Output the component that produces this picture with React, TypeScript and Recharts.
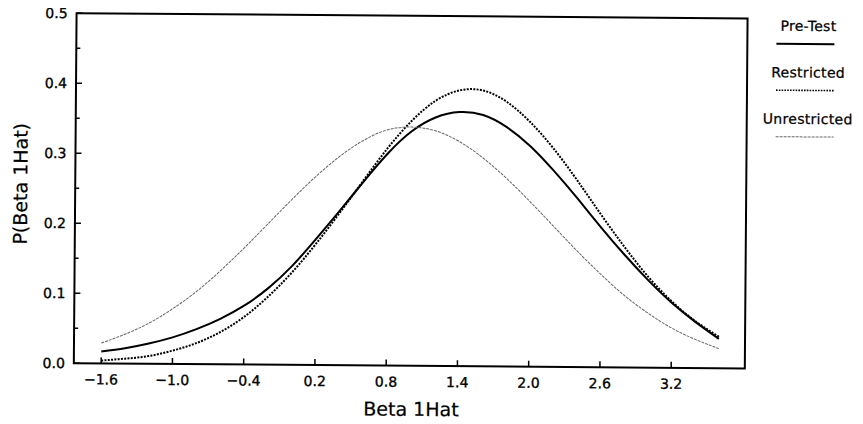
import React from 'react';
import { LineChart, Line, XAxis, YAxis, ReferenceArea, Legend } from 'recharts';

const xValues = [-1.6, -1.4, -1.2, -1.0, -0.8, -0.6, -0.4, -0.2, 0.0, 0.2, 0.4, 0.6, 0.8, 1.0, 1.2, 1.4, 1.6, 1.8, 2.0, 2.2, 2.4, 2.6, 2.8, 3.0, 3.2, 3.4, 3.6];
const preTest = [0.017, 0.022, 0.029, 0.038, 0.050, 0.065, 0.084, 0.109, 0.141, 0.180, 0.221, 0.263, 0.303, 0.335, 0.355, 0.363, 0.359, 0.342, 0.315, 0.280, 0.241, 0.200, 0.161, 0.125, 0.093, 0.066, 0.042];
const restricted = [0.004, 0.007, 0.011, 0.019, 0.030, 0.046, 0.068, 0.097, 0.132, 0.173, 0.218, 0.265, 0.311, 0.350, 0.379, 0.394, 0.394, 0.378, 0.349, 0.311, 0.266, 0.218, 0.172, 0.130, 0.095, 0.067, 0.045];
const unrestricted = [0.029, 0.042, 0.058, 0.079, 0.104, 0.134, 0.167, 0.202, 0.237, 0.270, 0.299, 0.322, 0.337, 0.341, 0.336, 0.321, 0.298, 0.269, 0.236, 0.201, 0.166, 0.133, 0.103, 0.078, 0.057, 0.041, 0.028];

const xTicks = [-1.6, -1.0, -0.4, 0.2, 0.8, 1.4, 2.0, 2.6, 3.2];
const yTicks = [0, 0.05, 0.1, 0.15, 0.2, 0.25, 0.3, 0.35, 0.4, 0.45, 0.5];
const seriesNames = ['Pre-Test', 'Restricted', 'Unrestricted'];
const xLabel = 'Beta 1Hat';
const yLabel = 'P(Beta 1Hat)';

const data = xValues.map((x, i) => ({
  x,
  pre: preTest[i],
  res: restricted[i],
  unr: unrestricted[i],
}));

const FONT = '"DejaVu Sans", sans-serif';

const seriesStyle: Record<string, { stroke: string; width: number; dash?: string }> = {
  'Pre-Test': { stroke: '#000', width: 2 },
  Restricted: { stroke: '#000', width: 1.6, dash: '1.6 1.2' },
  Unrestricted: { stroke: '#666', width: 1, dash: '3 1' },
};

const fmt = (v: number) => {
  const s = Math.abs(v).toFixed(1);
  return v < -1e-9 ? '\u2212' + s : s;
};

const textProps = { fontFamily: FONT, fill: '#000', stroke: '#000', strokeWidth: 0.35 };

const XTick = (props: any) => {
  const { x, y, payload } = props;
  return (
    <g>
      <line x1={x} x2={x} y1={y} y2={y - 6} stroke="#000" strokeWidth={1.5} />
      <text x={x} y={y + 16} textAnchor="middle" dominantBaseline="central" fontSize={14} {...textProps}>
        {fmt(payload.value)}
      </text>
    </g>
  );
};

const YTick = (props: any) => {
  const { x, y, payload } = props;
  const major = Math.round(payload.value * 100) % 10 === 0;
  return (
    <g>
      <line x1={x} x2={x + (major ? 6 : 4)} y1={y} y2={y} stroke="#000" strokeWidth={1.5} />
      {major && (
        <text x={x - 9} y={y} textAnchor="end" dominantBaseline="central" fontSize={14} {...textProps}>
          {payload.value.toFixed(1)}
        </text>
      )}
    </g>
  );
};

const renderXLabel = (props: any) => {
  const vb = props.viewBox;
  return (
    <text x={vb.x + vb.width / 2 + 2} y={vb.y + 43} textAnchor="middle" dominantBaseline="central" fontSize={19} {...textProps} strokeWidth={0.2}>
      {xLabel}
    </text>
  );
};

const renderYLabel = (props: any) => {
  const vb = props.viewBox;
  const cx = 12;
  const cy = vb.y + vb.height / 2 - 4;
  return (
    <text x={cx} y={cy} transform={`rotate(-90, ${cx}, ${cy})`} textAnchor="middle" dominantBaseline="central" fontSize={19} {...textProps} strokeWidth={0.2}>
      {yLabel}
    </text>
  );
};

const renderLegend = (props: any) => {
  const payload = props.payload || [];
  return (
    <svg width={100} height={145} style={{ overflow: 'visible' }}>
      {payload.map((entry: any, i: number) => {
        const st = seriesStyle[entry.value] || { stroke: '#000', width: 1 };
        const ty = 17 + i * 46.5;
        const ly = 35 + i * 46.5;
        return (
          <g key={entry.value}>
            <text x={50} y={ty} textAnchor="middle" dominantBaseline="central" fontSize={14} letterSpacing={0.3} {...textProps} strokeWidth={0.25}>
              {entry.value}
            </text>
            <line x1={18} x2={76} y1={ly} y2={ly} stroke={st.stroke} strokeWidth={st.width} strokeDasharray={st.dash} />
          </g>
        );
      })}
    </svg>
  );
};

export default function App() {
  return (
    <div style={{ width: 855, height: 416, transform: 'rotate(0.45deg)', fontFamily: FONT }}>
      <LineChart width={855} height={416} data={data} margin={{ top: 8, right: 117, bottom: 0, left: 0 }}>
        <XAxis
          dataKey="x"
          type="number"
          domain={[-1.83, 3.82]}
          ticks={xTicks}
          interval={0}
          allowDataOverflow
          height={58}
          tickSize={0}
          tickMargin={0}
          tickLine={false}
          axisLine={false}
          tick={<XTick />}
          label={renderXLabel}
        />
        <YAxis
          type="number"
          domain={[0, 0.5]}
          ticks={yTicks}
          interval={0}
          allowDataOverflow
          width={67}
          tickSize={0}
          tickMargin={0}
          tickLine={false}
          axisLine={false}
          tick={<YTick />}
          label={renderYLabel}
        />
        <ReferenceArea x1={-1.83} x2={3.82} y1={0} y2={0.5} fill="none" fillOpacity={0} stroke="#000" strokeWidth={2} />
        <Line dataKey="pre" name={seriesNames[0]} type="natural" stroke={seriesStyle['Pre-Test'].stroke} strokeWidth={seriesStyle['Pre-Test'].width} dot={false} isAnimationActive={false} />
        <Line dataKey="res" name={seriesNames[1]} type="natural" stroke={seriesStyle.Restricted.stroke} strokeWidth={2} strokeDasharray="2 1.3" dot={false} isAnimationActive={false} />
        <Line dataKey="unr" name={seriesNames[2]} type="natural" stroke={seriesStyle.Unrestricted.stroke} strokeWidth={1} strokeDasharray={seriesStyle.Unrestricted.dash} dot={false} isAnimationActive={false} />
        <Legend
          layout="horizontal"
          align="center"
          verticalAlign="middle"
          content={renderLegend}
          wrapperStyle={{ position: 'absolute', left: 749, top: -2.5, width: 100, height: 145 }}
        />
      </LineChart>
    </div>
  );
}
